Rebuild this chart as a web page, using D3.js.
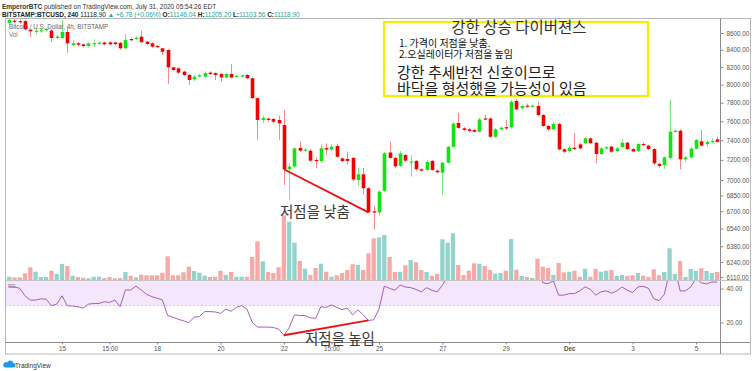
<!DOCTYPE html>
<html>
<head>
<meta charset="utf-8">
<script src="https://cdn.jsdelivr.net/npm/d3@7"></script>
<style>
  body { margin: 0; background: #fff; }
  svg { display: block; font-family: "Liberation Sans", Arial, sans-serif; }
  .kr { font-family: "Noto Sans CJK KR", sans-serif; }
</style>
</head>
<body>
<script>
// 4h candles, BTCUSD Bitstamp, Nov 13 - Dec 5 (index 10 = Nov 15 00:00)
var opens = [8722,8750,8745,8745,8640,8617,8622,8638,8630,8540,
  8540,8612,8457,8477,8465,8445,8470,8475,8485,8487,
  8487,8482,8418,8528,8527,8556,8496,8477,8445,8418,
  8398,8196,8185,8147,8109,8060,8090,8090,8136,8130,
  8120,8080,8120,8090,8095,8109,8072,7850,7614,7628,
  7625,7614,7561,7106,7133,7322,7295,7293,7199,7189,
  7320,7305,7342,7215,7210,7220,7000,7056,6920,6700,
  6690,6895,7275,7220,7140,7249,7174,7190,7106,7099,
  7190,7092,7072,7172,7333,7582,7525,7515,7508,7490,
  7630,7630,7437,7515,7537,7537,7820,7740,7768,7757,
  7765,7667,7550,7515,7572,7307,7290,7323,7358,7370,
  7420,7375,7260,7315,7335,7290,7330,7375,7310,7290,
  7362,7345,7310,7160,7148,7220,7490,7500,7205,7225,
  7315,7390,7360,7385,7410];
var highs = [8790,8770,8765,8760,8650,8660,8650,8665,8645,8575,
  8757,8660,8515,8490,8475,8490,8516,8500,8500,8500,
  8495,8495,8588,8545,8560,8630,8505,8490,8457,8425,
  8405,8205,8195,8155,8120,8110,8125,8150,8150,8140,
  8130,8135,8235,8110,8115,8120,8080,7860,7660,7640,
  7640,7660,7721,7170,7330,7386,7320,7310,7225,7360,
  7369,7360,7365,7225,7283,7230,7120,7120,6930,6750,
  6900,7280,7386,7230,7290,7260,7249,7200,7115,7200,
  7200,7105,7180,7345,7590,7690,7540,7530,7520,7640,
  7667,7640,7530,7545,7614,7830,7840,7780,7790,7785,
  7811,7680,7560,7590,7585,7320,7340,7475,7370,7430,
  7430,7385,7330,7340,7345,7330,7410,7385,7320,7375,
  7375,7355,7320,7170,7235,7830,7515,7515,7240,7330,
  7415,7508,7400,7420,7440];
var lows = [8700,8720,8715,8630,8552,8580,8600,8620,8495,8520,
  8530,8365,8440,8440,8425,8430,8437,8460,8455,8455,
  8455,8400,8405,8500,8515,8480,8455,8425,8420,8340,
  8010,8150,8120,8095,7997,8040,8080,8080,8110,8050,
  8030,8070,8070,8080,8085,8060,7840,7403,7580,7600,
  7580,7403,6951,6806,7120,7280,7280,7180,7118,7170,
  7250,7290,7220,7175,7150,6990,6940,6860,6685,6530,
  6660,6880,7210,7120,7130,7180,7033,7090,7080,7090,
  7090,7065,6854,7165,7320,7520,7495,7485,7480,7480,
  7610,7420,7420,7505,7508,7520,7715,7730,7745,7745,
  7655,7540,7500,7505,7295,7270,7275,7300,7305,7360,
  7360,7166,7250,7305,7270,7280,7320,7300,7275,7280,
  7340,7300,7150,7120,7110,7210,7480,7105,7180,7210,
  7305,7335,7330,7370,7370];
var closes = [8757,8738,8730,8643,8620,8628,8632,8648,8540,8558,
  8612,8477,8477,8460,8445,8477,8480,8485,8465,8465,
  8467,8418,8516,8515,8544,8490,8469,8437,8435,8378,
  8196,8166,8136,8109,8053,8090,8105,8130,8120,8109,
  8080,8120,8080,8098,8105,8072,7850,7614,7636,7614,
  7595,7578,7106,7133,7317,7293,7305,7192,7189,7317,
  7305,7335,7232,7189,7190,7005,7056,6920,6690,6688,
  6887,7267,7220,7135,7265,7192,7184,7106,7092,7180,
  7099,7076,7172,7333,7575,7530,7508,7498,7490,7620,
  7620,7437,7515,7532,7527,7811,7728,7765,7757,7768,
  7667,7550,7515,7572,7307,7283,7323,7317,7317,7420,
  7370,7260,7317,7328,7283,7317,7375,7310,7285,7362,
  7352,7310,7165,7140,7225,7490,7500,7205,7225,7315,
  7403,7345,7385,7394,7385];
var volumes = [330,270,270,670,1270,830,300,300,930,600,
  1600,1400,430,300,230,170,330,330,200,300,
  170,200,800,430,270,530,470,470,470,730,
  2370,470,470,770,1330,900,730,430,300,330,
  930,500,800,330,330,330,2300,3870,1870,800,
  700,1270,6470,5830,3730,1900,1130,500,1200,1630,
  830,330,470,700,1000,1570,1500,1000,2670,4170,
  4270,4500,2300,800,800,1470,2000,1770,1000,800,
  430,600,4070,3730,4670,1500,500,930,1670,1630,
  1400,1000,630,700,930,4100,1030,400,300,200,
  2130,1330,1200,500,1700,770,830,930,330,1130,
  330,1100,830,930,1000,400,500,400,470,700,
  430,300,1070,470,800,3170,600,1900,300,1100,
  900,1170,900,700,800];
var rsi = [40.9,40.9,40.1,35.7,33.2,33.2,33.9,33.7,29.9,30.8,
  35.7,29.9,29.7,29.3,28.5,30.8,31.2,31.2,32.2,31.8,
  33.2,29.4,39.1,39.1,41.4,39.1,36.6,35.2,34.3,33.3,
  24.1,23.1,21.9,21.0,19.8,23.1,23.5,26.4,26.4,26.2,
  25.4,27.9,26.6,28.9,29.9,27.9,20.2,17.3,17.3,17.3,
  17.1,16.1,12.5,16.9,24.5,24.1,24.1,22.7,22.5,29.3,
  28.9,30.3,28.9,27.5,28.5,24.5,27.4,24.6,21.2,21.6,
  27.9,41.4,40.1,38.9,42.0,40.9,40.5,39.5,38.0,40.5,
  39.0,38.0,41.9,48,58,56,54,53,52,57,
  56,50,52,53,52,63,60,61,60,60,
  54,43.4,42.8,44.5,36.1,36.1,37.0,37.0,38.6,41.0,
  39.5,36.1,38.0,38.6,37.2,38.6,40.9,39.0,37.6,40.9,
  41.3,40.1,34.1,32.8,36.6,50,52,38.6,38.6,40.9,
  46,43.3,42.7,43.8,43.8];

// axis labels
var timeTickIdx = [10, 19, 28, 40, 52, 61, 70, 82, 94, 106, 118, 130];
var timeTickLabels = ["15", "15:00", "18", "20", "22", "15:00", "25", "27", "29", "Dec", "3", "5"];
var priceTicks = [8600, 8400, 8200, 8000, 7800, 7600, 7400, 7200, 7000, 6850, 6700, 6540, 6380, 6240, 6110];
var rsiTicks = [40, 20];

// divergence: lower low on price, higher low on RSI (candle indexes)
var divFrom = 52, divTo = 68;

var W = 756, H = 371;
var L = 5, R = 720, RR = 750, T = 19, PB = 280, TB = 342, B = 354;

var svg = d3.select("body").append("svg")
    .attr("width", W)
    .attr("height", H);

var x = d3.scaleLinear().domain([10, 130]).range([62, 696]);
var y = d3.scaleLog().domain([7000, 8600]).range([180, 33]);
var yVol = d3.scaleLinear().domain([0, 6500]).range([PB, PB - 65]);
var yRsi = d3.scaleLinear().domain([20, 40]).range([322.5, 288.5]);

var defs = svg.append("defs");
defs.append("clipPath").attr("id", "clipPrice")
  .append("rect").attr("x", L).attr("y", T).attr("width", R - L).attr("height", PB - T);
defs.append("clipPath").attr("id", "clipRsi")
  .append("rect").attr("x", L).attr("y", PB).attr("width", R - L).attr("height", TB - PB);

// header
var h1 = svg.append("text").attr("x", 2).attr("y", 8.5).attr("font-size", "6.5px").attr("fill", "#333");
h1.append("tspan").attr("font-weight", "bold").text("EmperorBTC");
h1.append("tspan").text(" published on TradingView.com, July 31, 2020 05:54:26 EDT");

var teal = "#26a69a";
var h2 = svg.append("text").attr("x", 2).attr("y", 16.5).attr("font-size", "6.5px").attr("fill", "#222");
h2.append("tspan").attr("font-weight", "bold").text("BITSTAMP:BTCUSD, 240");
h2.append("tspan").text(" 11118.90 ");
h2.append("tspan").attr("fill", teal).text("▲ +6.78 (+0.06%) ");
[["O:", "11146.04 "], ["H:", "11205.20 "], ["L:", "11103.56 "], ["C:", "11118.90"]].forEach(function(p) {
  h2.append("tspan").attr("font-weight", "bold").text(p[0]);
  h2.append("tspan").attr("fill", teal).text(p[1]);
});

// rsi band (30-70)
svg.append("rect")
  .attr("clip-path", "url(#clipRsi)")
  .attr("x", L).attr("width", R - L)
  .attr("y", yRsi(70)).attr("height", yRsi(30) - yRsi(70))
  .attr("fill", "#f3e6fd");
svg.append("line")
  .attr("x1", L).attr("x2", R)
  .attr("y1", yRsi(30)).attr("y2", yRsi(30))
  .attr("stroke", "#c9bcd6").attr("stroke-width", 0.8)
  .attr("stroke-dasharray", "2,2");

var idx = d3.range(closes.length);
var isUp = function(i) { return closes[i] >= opens[i]; };

// volume
svg.append("g").attr("clip-path", "url(#clipPrice)")
  .selectAll("rect")
  .data(idx)
  .enter()
  .append("rect")
  .attr("x", function(d) { return x(d) - 2.15; })
  .attr("width", 4.3)
  .attr("y", function(d) { return yVol(volumes[d]); })
  .attr("height", function(d) { return PB - yVol(volumes[d]); })
  .attr("fill", function(d) { return isUp(d) ? "#92d3cb" : "#f6a9a6"; });

// candles
var gC = svg.append("g").attr("clip-path", "url(#clipPrice)");
var candle = gC.selectAll("g")
  .data(idx)
  .enter()
  .append("g");
candle.append("line")
  .attr("x1", function(d) { return Math.round(x(d)) + 0.5; })
  .attr("x2", function(d) { return Math.round(x(d)) + 0.5; })
  .attr("y1", function(d) { return y(highs[d]); })
  .attr("y2", function(d) { return y(lows[d]); })
  .attr("stroke", function(d) { return isUp(d) ? "#7de87d" : "#f48a8a"; })
  .attr("stroke-width", 1);
candle.append("rect")
  .attr("x", function(d) { return Math.round(x(d)) + 0.5 - 1.8; })
  .attr("width", 3.6)
  .attr("y", function(d) { return y(Math.max(opens[d], closes[d])); })
  .attr("height", function(d) {
    return Math.max(1.2, y(Math.min(opens[d], closes[d])) - y(Math.max(opens[d], closes[d])));
  })
  .attr("fill", function(d) { return isUp(d) ? "#12e312" : "#f50000"; });

// rsi line
svg.append("path")
  .attr("clip-path", "url(#clipRsi)")
  .datum(idx)
  .attr("d", d3.line().x(function(d) { return x(d); }).y(function(d) { return yRsi(rsi[d]); }))
  .attr("fill", "none")
  .attr("stroke", "#9a4fb6")
  .attr("stroke-width", 0.9);

// pane labels
svg.append("text").attr("x", 9).attr("y", 29).attr("font-size", "6.3px").attr("fill", "#666")
  .text("Bitcoin / U.S. Dollar, 4h, BITSTAMP");
svg.append("text").attr("x", 9).attr("y", 37).attr("font-size", "6.3px").attr("fill", "#777").text("Vol");
svg.append("text").attr("x", 8).attr("y", 288).attr("font-size", "4.5px").attr("fill", "#777").text("RSI");

// frame
svg.append("rect").attr("x", L + 0.5).attr("y", T - 0.5).attr("width", RR - L).attr("height", B - T + 0.5)
  .attr("fill", "none").attr("stroke", "#b8b8b8");
svg.append("line").attr("x1", R + 0.5).attr("x2", R + 0.5).attr("y1", T - 0.5).attr("y2", B)
  .attr("stroke", "#8c8c8c");
svg.append("line").attr("x1", L).attr("x2", RR).attr("y1", PB + 0.5).attr("y2", PB + 0.5)
  .attr("stroke", "#c4c4c4");
svg.append("line").attr("x1", L).attr("x2", RR).attr("y1", TB + 0.5).attr("y2", TB + 0.5)
  .attr("stroke", "#8c8c8c");

// axes
function styleAxis(g) {
  g.select(".domain").remove();
  g.selectAll("line").attr("stroke", "#8c8c8c");
  g.selectAll("text").attr("fill", "#555").attr("font-size", "6.3px")
    .attr("font-family", "Liberation Sans, Arial, sans-serif");
}
svg.append("g")
  .attr("transform", "translate(" + (R + 0.5) + ",0)")
  .call(d3.axisRight(y).tickValues(priceTicks).tickFormat(d3.format(".2f")).tickSize(3).tickPadding(3))
  .call(styleAxis);
svg.append("g")
  .attr("transform", "translate(" + (R + 0.5) + ",0)")
  .call(d3.axisRight(yRsi).tickValues(rsiTicks).tickFormat(d3.format(".2f")).tickSize(3).tickPadding(3))
  .call(styleAxis);
var xAxis = svg.append("g")
  .attr("transform", "translate(0," + (TB + 0.5) + ")")
  .call(d3.axisBottom(x).tickValues(timeTickIdx)
    .tickFormat(function(d, i) { return timeTickLabels[i]; })
    .tickSize(2).tickPadding(2))
  .call(styleAxis);
xAxis.selectAll("text").filter(function(d, i) { return timeTickLabels[i] === "Dec"; })
  .attr("font-weight", "bold");

// divergence lines
svg.append("line")
  .attr("x1", x(divFrom)).attr("y1", y(closes[divFrom]))
  .attr("x2", x(divTo)).attr("y2", y(closes[divTo]))
  .attr("stroke", "#f01010").attr("stroke-width", 1.8);
svg.append("line")
  .attr("x1", x(divFrom)).attr("y1", yRsi(rsi[divFrom]))
  .attr("x2", x(divTo)).attr("y2", yRsi(rsi[divTo]))
  .attr("stroke", "#f01010").attr("stroke-width", 1.8);

svg.append("text").attr("class", "kr")
  .attr("x", 280).attr("y", 217).attr("font-size", "14.5px").attr("fill", "#3a3a3a")
  .text("저점을 낮춤");
svg.append("text").attr("class", "kr")
  .attr("x", 305).attr("y", 344).attr("font-size", "14.5px").attr("fill", "#3a3a3a")
  .text("저점을 높임");

// note box
svg.append("rect")
  .attr("x", 384).attr("y", 22).attr("width", 264).attr("height", 74)
  .attr("fill", "#fff").attr("stroke", "#f6ee00").attr("stroke-width", 2.2);
var note = svg.append("g").attr("class", "kr").attr("fill", "#222");
note.append("text").attr("x", 519).attr("y", 33).attr("text-anchor", "middle")
  .attr("font-size", "15.5px").attr("fill", "#333").text("강한 상승 다이버젼스");
note.append("text").attr("x", 399).attr("y", 47).attr("font-size", "10px")
  .attr("fill", "#111").text("1. 가격이 저점을 낮춤.");
note.append("text").attr("x", 399).attr("y", 58).attr("font-size", "10px")
  .attr("fill", "#111").text("2.오실레이터가 저점을 높임");
note.append("text").attr("x", 397).attr("y", 77.5).attr("font-size", "15px").text("강한 추세반전 신호이므로");
note.append("text").attr("x", 397).attr("y", 93.5).attr("font-size", "15px").text("바닥을 형성했을 가능성이 있음");

// TradingView mark
svg.append("path")
  .attr("d", "M5,367.5 h8.2 a2.3,2.3 0 0 0 0.2,-4.6 a3.2,3.2 0 0 0 -6,-0.6 a2.6,2.6 0 0 0 -2.4,5.2 z")
  .attr("fill", "#2196f3");
svg.append("text").attr("x", 15).attr("y", 367.5).attr("font-size", "6.5px").attr("fill", "#333")
  .text("TradingView");
</script>
</body>
</html>
